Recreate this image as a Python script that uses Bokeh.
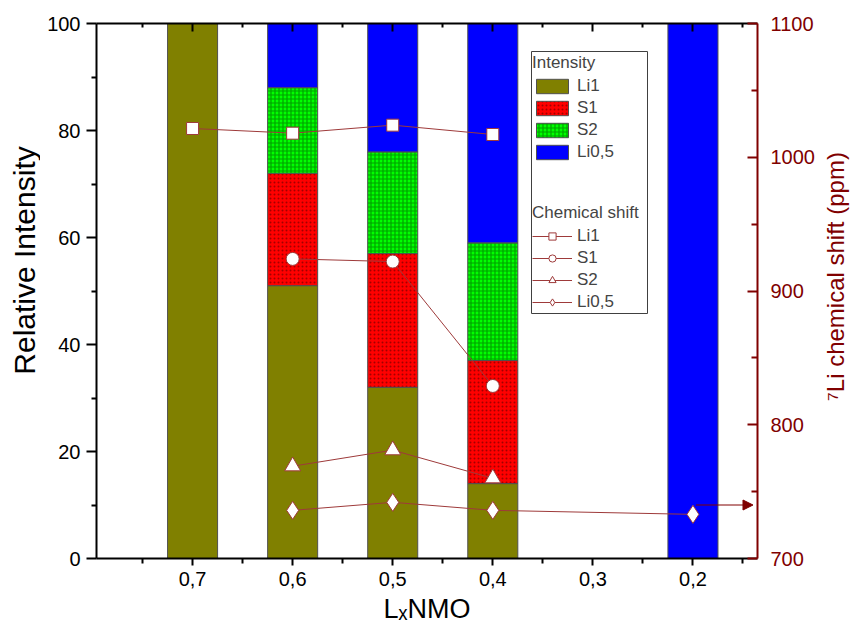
import math
from bokeh.plotting import figure
from bokeh.layouts import row
from bokeh.models import (Range1d, LinearAxis, FixedTicker, Legend, LegendItem, Label,
                          BoxAnnotation, Arrow, NormalHead, ColumnDataSource)
from bokeh.embed import file_html
from bokeh.resources import INLINE

# ---------------- data ----------------
compositions = [0.7, 0.6, 0.5, 0.4, 0.2]
li1_int = [100, 51, 32, 14, 0]
s1_int = [0, 21, 25, 23, 0]
s2_int = [0, 16, 19, 22, 0]
li05_int = [0, 12, 24, 41, 100]

shift_li1_x = [0.7, 0.6, 0.5, 0.4]
shift_li1 = [1021.5, 1018, 1024, 1017]
shift_s1_x = [0.6, 0.5, 0.4]
shift_s1 = [924, 922, 829]
shift_s2_x = [0.6, 0.5, 0.4]
shift_s2 = [769, 781, 760]
shift_li05_x = [0.6, 0.5, 0.4, 0.2]
shift_li05 = [736, 742, 736, 733]

arrow_x = [0.197, 0.14]
arrow_y = 740

x_ticks = [0.7, 0.6, 0.5, 0.4, 0.3, 0.2]
x_tick_labels = ["0,7", "0,6", "0,5", "0,4", "0,3", "0,2"]
x_minor = [0.75, 0.65, 0.55, 0.45, 0.35, 0.25, 0.15]
y_ticks = [0, 20, 40, 60, 80, 100]
y_minor = [10, 30, 50, 70, 90]
r_ticks = [700, 800, 900, 1000, 1100]
r_minor = [750, 850, 950, 1050]

series = ["Li1", "S1", "S2", "Li0,5"]
bar_colors = ["#808000", "#FF0000", "#00FF00", "#0000FF"]
hatches = [" ", "dot", "cross", " "]
hatch_colors = ["#808000", "#7A0000", "#007A00", "#0000FF"]

FONT = "Liberation Sans"
DARK_RED = "#800000"
LINE_RED = "#9E3A3A"
H = 634


def side_strip(width, label):
    s = figure(width=width, height=H, x_range=Range1d(0, 1), y_range=Range1d(0, 1),
               x_axis_type=None, y_axis_type=None, output_backend="svg", toolbar_location=None,
               min_border=0, min_border_left=0, min_border_right=0,
               min_border_top=0, min_border_bottom=0)
    s.outline_line_color = None
    s.xgrid.visible = False
    s.ygrid.visible = False
    s.add_layout(label)
    return s


p = figure(width=780, height=H, x_range=Range1d(0.796, 0.1355), y_range=Range1d(0, 100),
           output_backend="svg", toolbar_location=None,
           min_border_left=56, min_border_right=63, min_border_top=23, min_border_bottom=76)
p.extra_y_ranges = {"right": Range1d(700, 1100)}
p.xgrid.visible = False
p.ygrid.visible = False
p.outline_line_color = None
p.background_fill_color = "white"
p.border_fill_color = "white"

# ---------------- bars ----------------
src = ColumnDataSource(dict(x=compositions, Li1=li1_int, S1=s1_int, S2=s2_int, Li05=li05_int))
bars = p.vbar_stack(["Li1", "S1", "S2", "Li05"], x="x", width=0.05, source=src,
                    fill_color=bar_colors, line_color="#505050", line_width=1,
                    hatch_pattern=hatches, hatch_color=hatch_colors,
                    hatch_scale=4, hatch_weight=1.2, hatch_alpha=0.7)

# ---------------- chemical shift ----------------
def shift_series(xs, ys, marker, size):
    ln = p.line(xs, ys, line_color=LINE_RED, line_width=1, y_range_name="right")
    sc = p.scatter(xs, ys, marker=marker, size=size, fill_color="white",
                   line_color=LINE_RED, line_width=1, y_range_name="right")
    return [ln, sc]

r_li1 = shift_series(shift_li1_x, shift_li1, "square", 12)
r_s1 = shift_series(shift_s1_x, shift_s1, "circle", 13)
r_s2 = shift_series(shift_s2_x, shift_s2, "triangle", 16)
r_li05 = shift_series(shift_li05_x, shift_li05, "diamond", 18)

p.add_layout(Arrow(end=NormalHead(size=10, fill_color=DARK_RED, line_color=DARK_RED),
                   x_start=arrow_x[0], y_start=arrow_y, x_end=arrow_x[1], y_end=arrow_y,
                   line_color=DARK_RED, line_width=1, y_range_name="right"))

# ---------------- axes ----------------
xa = p.xaxis[0]
xa.ticker = FixedTicker(ticks=x_ticks, minor_ticks=x_minor)
xa.major_label_overrides = dict(zip(x_ticks, x_tick_labels))
xa.axis_label = "L\u2093NMO"
ya = p.yaxis[0]
ya.ticker = FixedTicker(ticks=y_ticks, minor_ticks=y_minor)

for ax in (xa, ya):
    ax.axis_line_width = 2
    ax.major_tick_line_width = 2
    ax.minor_tick_line_width = 2
    ax.major_label_text_font = FONT
    ax.major_label_text_font_size = "20px"
    ax.major_label_text_color = "black"
    ax.axis_label_text_font = FONT
    ax.axis_label_text_font_style = "normal"
    ax.axis_label_text_color = "black"
    ax.major_tick_in = 0
    ax.minor_tick_in = 0

xa.axis_label_text_font_size = "27px"
xa.major_tick_out = 7
xa.minor_tick_out = 5
xa.major_label_standoff = 6
xa.axis_label_standoff = 5
ya.major_tick_out = 10
ya.minor_tick_out = 5
ya.major_label_standoff = 6

top = LinearAxis(ticker=FixedTicker(ticks=x_ticks, minor_ticks=x_minor),
                 major_label_text_font_size="1px", major_label_text_color=None,
                 major_label_standoff=0,
                 major_tick_in=8, major_tick_out=0, minor_tick_in=4, minor_tick_out=0,
                 axis_line_width=2, major_tick_line_width=2, minor_tick_line_width=2)
p.add_layout(top, "above")

right = LinearAxis(y_range_name="right", ticker=FixedTicker(ticks=r_ticks, minor_ticks=r_minor),
                   axis_line_color=DARK_RED, major_tick_line_color=DARK_RED,
                   minor_tick_line_color=DARK_RED, major_label_text_color=DARK_RED,
                   axis_line_width=2, major_tick_line_width=2, minor_tick_line_width=2,
                   major_tick_in=10, major_tick_out=0, minor_tick_in=6, minor_tick_out=0,
                   major_label_standoff=13,
                   major_label_text_font=FONT, major_label_text_font_size="20px")
p.add_layout(right, "right")

# ---------------- legends ----------------
p.add_layout(BoxAnnotation(left=435, right=551, bottom=245, top=507,
                           left_units="screen", right_units="screen",
                           bottom_units="screen", top_units="screen",
                           fill_color="white", fill_alpha=1,
                           line_color="#404040", line_width=1, line_alpha=1, level="annotation"))

common = dict(title_text_font=FONT, title_text_font_size="17px", title_text_font_style="normal",
              title_standoff=3, label_text_font=FONT, label_text_font_size="17px",
              glyph_width=40, glyph_height=18, label_height=18, label_standoff=5,
              label_width=60, spacing=2, padding=2, margin=0,
              border_line_color=None, background_fill_alpha=0)

leg_int = Legend(items=[LegendItem(label=series[i], renderers=[bars[i]]) for i in range(4)],
                 location=(436, 396), title="Intensity", **common)
leg_shift = Legend(items=[LegendItem(label=series[0], renderers=r_li1),
                          LegendItem(label=series[1], renderers=r_s1),
                          LegendItem(label=series[2], renderers=r_s2),
                          LegendItem(label=series[3], renderers=r_li05)],
                   location=(436, 246), title="Chemical shift", **common)
p.add_layout(leg_int)
p.add_layout(leg_shift)

# ---------------- axis titles (read bottom to top) in narrow side strips ----------------
p_left = side_strip(40, Label(x=7, y=298, x_units="screen", y_units="screen",
                              angle=math.pi / 2, text="Relative Intensity",
                              text_align="center", text_baseline="top",
                              text_font=FONT, text_font_size="30px", text_color="black"))
p_right = side_strip(43, Label(x=1, y=282, x_units="screen", y_units="screen",
                               angle=math.pi / 2, text="\u2077Li chemical shift (ppm)",
                               text_align="center", text_baseline="top",
                               text_font=FONT, text_font_size="24px", text_color=DARK_RED))

layout = row(p_left, p, p_right, spacing=0)
open("out.html", "w").write(file_html(layout, INLINE))
